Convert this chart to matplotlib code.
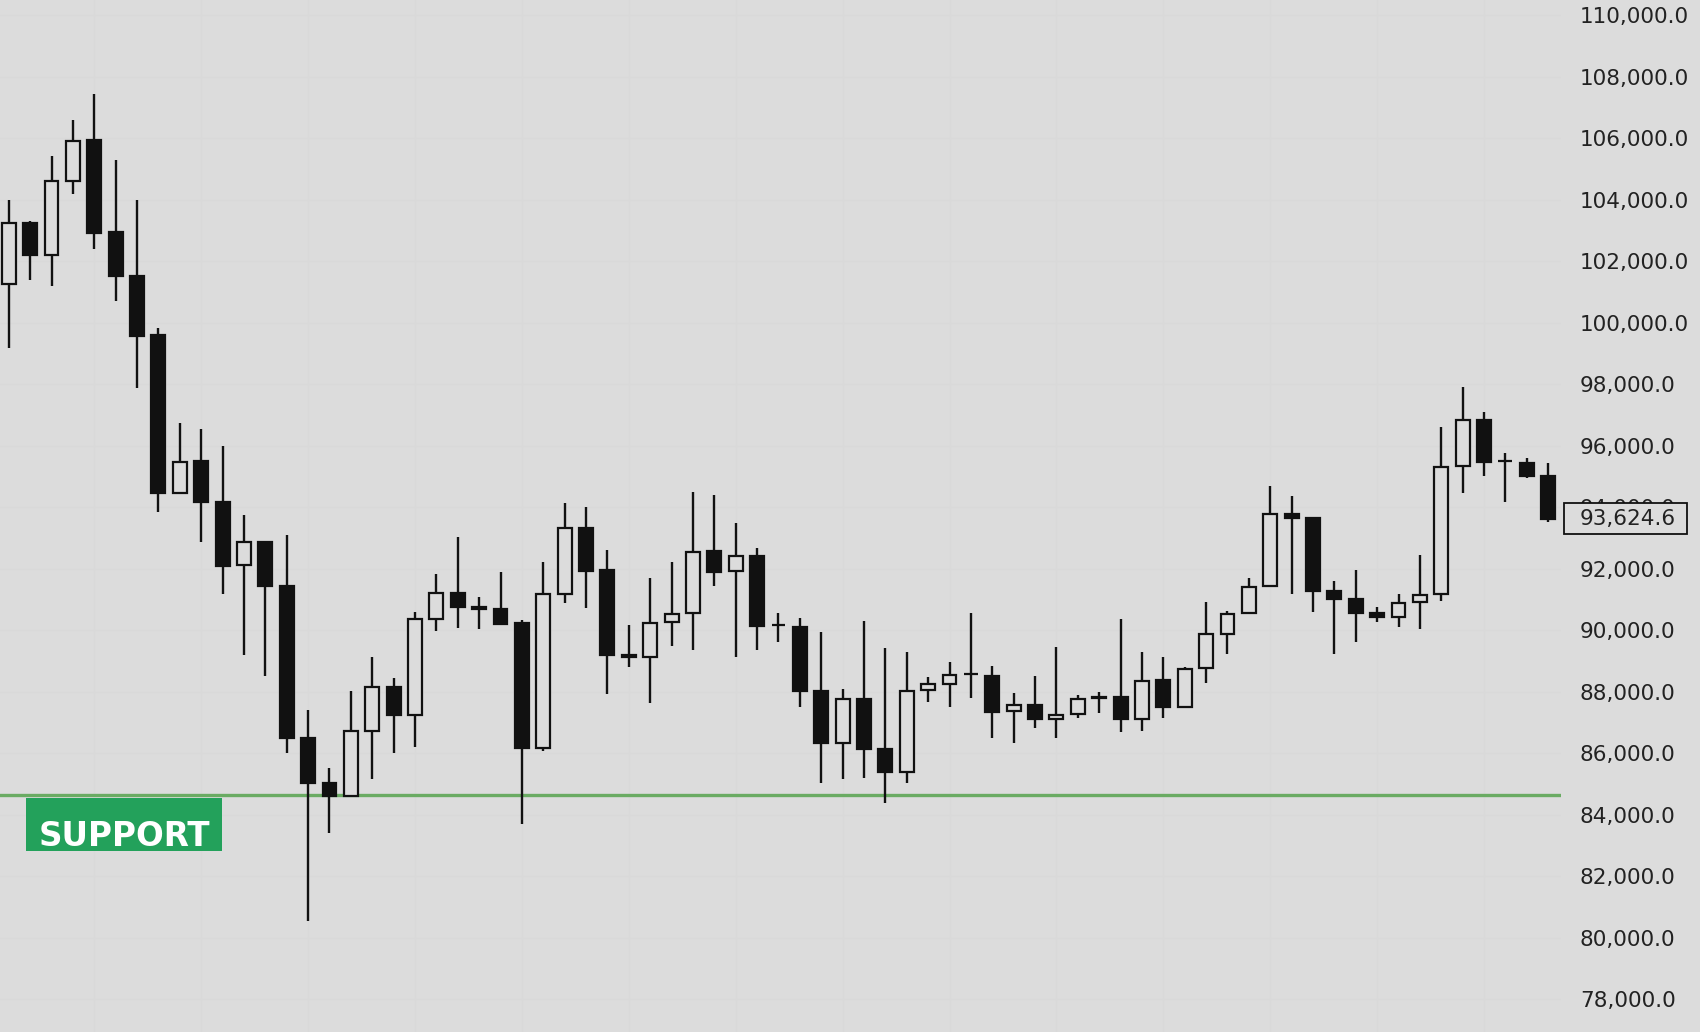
import matplotlib.pyplot as plt
import numpy as np
from matplotlib.patches import Rectangle
from matplotlib.ticker import FuncFormatter
from matplotlib.transforms import blended_transform_factory

# daily OHLC
opens = [101250, 103230, 102200, 104600, 105930, 102940, 101520, 99590, 94470, 95500,
         94160, 92110, 92870, 91430, 86500, 85010, 84610, 86720, 88160, 87240,
         90360, 91210, 90760, 90680, 90230, 86150, 91180, 93330, 91950, 89200,
         89110, 90250, 90540, 92570, 91920, 92410, 90170, 90090, 88030, 86310,
         87750, 86120, 85390, 88040, 88250, 88580, 88490, 87370, 87560, 87110,
         87270, 87810, 87810, 87110, 88370, 87510, 88750, 89870, 90540, 91430,
         93760, 93630, 91270, 91000, 90540, 90410, 90900, 91160, 95330, 96830,
         95510, 95420, 95020]
highs = [103970, 103300, 105420, 106590, 107430, 105290, 103980, 99830, 96720, 96530,
         95980, 93740, 92900, 93090, 87400, 85500, 88020, 89130, 88430, 90600,
         91820, 93020, 91060, 91890, 90330, 92220, 94140, 93990, 92600, 90160,
         91680, 92200, 94480, 94390, 93490, 92660, 90540, 90380, 89920, 88070,
         90290, 89430, 89300, 88460, 88950, 90540, 88840, 87940, 88500, 89460,
         87890, 87980, 90350, 89300, 89110, 88810, 90900, 90630, 91700, 94680,
         94360, 93650, 91590, 91950, 90740, 91170, 92440, 96590, 97890, 97100,
         95770, 95580, 95420]
lows = [99170, 101390, 101200, 104180, 102380, 100710, 97880, 93850, 94450, 92850,
        91160, 89190, 88510, 85990, 80550, 83410, 84580, 85150, 85990, 86210,
        89970, 90080, 90020, 90200, 83680, 86080, 90890, 90730, 87910, 88810,
        87630, 89490, 89350, 91440, 89130, 89350, 89620, 87490, 85010, 85160,
        85180, 84370, 85010, 87670, 87490, 87780, 86480, 86310, 86820, 86500,
        87130, 87310, 86690, 86730, 87130, 87490, 88270, 89210, 90520, 91400,
        91160, 90580, 89210, 89600, 90270, 90110, 90020, 90950, 94470, 95020,
        94170, 94930, 93500]
closes = [103230, 102200, 104590, 105910, 102920, 101510, 99570, 94470, 95470, 94150,
          92090, 92850, 91420, 86480, 85010, 84610, 86720, 88160, 87240, 90350,
          91190, 90760, 90670, 90210, 86150, 91170, 93330, 91930, 89190, 89110,
          90240, 90520, 92550, 91900, 92410, 90140, 90150, 88030, 86310, 87750,
          86120, 85390, 88030, 88230, 88550, 88560, 87340, 87560, 87110, 87250,
          87750, 87790, 87110, 88350, 87510, 88730, 89870, 90520, 91410, 93760,
          93630, 91270, 91000, 90540, 90410, 90870, 91140, 95310, 96830, 95470,
          95490, 95020, 93624.6]

support_level = 84620
last_price = closes[-1]

BG = "#dcdcdc"
INK = "#111111"

o = np.array(opens, dtype=float)
h = np.array(highs, dtype=float)
l = np.array(lows, dtype=float)
c = np.array(closes, dtype=float)
x = np.arange(len(o))
up = c >= o

fig = plt.figure(figsize=(17, 10.32), dpi=100, facecolor=BG)
ax = fig.add_axes([0, 0, 1561 / 1700, 1])
ax.set_facecolor(BG)

# support line sits under the candles
ax.axhline(support_level, color="#6aab63", linewidth=2.4, zorder=1.5)

ax.vlines(x, l, h, color=INK, linewidth=1.7, zorder=2)
bottoms = np.minimum(o, c)
heights = np.abs(c - o)
ax.bar(x[up], heights[up], bottom=bottoms[up], width=0.65,
       facecolor=BG, edgecolor=INK, linewidth=1.6, zorder=3)
ax.bar(x[~up], heights[~up], bottom=bottoms[~up], width=0.65,
       facecolor=INK, edgecolor=INK, linewidth=1.6, zorder=3)

ax.set_xlim(-0.41, 72.6)
ax.set_ylim(76927, 110488)

ax.yaxis.tick_right()
ax.set_yticks(np.arange(78000, 110001, 2000))
ax.yaxis.set_major_formatter(FuncFormatter(lambda v, _: f"{v:,.1f}"))
ax.tick_params(axis="y", length=0, pad=13.5, labelsize=15.5, labelcolor="#222222")
ax.set_xticks(np.arange(4, 73, 5))
ax.tick_params(axis="x", length=0, labelbottom=False)
ax.grid(True, color="#d9d9d9", linewidth=0.9, zorder=0)
ax.set_axisbelow(True)
for s in ax.spines.values():
    s.set_visible(False)

# SUPPORT tag
ax.add_patch(Rectangle((0.81, 82813), 9.17, 1714, facecolor="#23a15b",
                       edgecolor="none", zorder=4))
ax.text(5.4, 82976, "SUPPORT", ha="center", va="baseline", color="white",
        fontsize=23.5, fontweight="bold", zorder=5)

# last price tag on the axis, covering part of the 94,000 label
tr = blended_transform_factory(ax.transAxes, ax.transData)
ax.add_patch(Rectangle((1.0019, last_price - 504), 0.0788, 1008, transform=tr,
                       facecolor=BG, edgecolor=INK, linewidth=1.3,
                       clip_on=False, zorder=5))
ax.text(1.0122, last_price, f"{last_price:,.1f}", transform=tr, ha="left",
        va="center", fontsize=15.5, color="#222222", clip_on=False, zorder=6)

fig.savefig("out.png", dpi=100, facecolor=BG)
